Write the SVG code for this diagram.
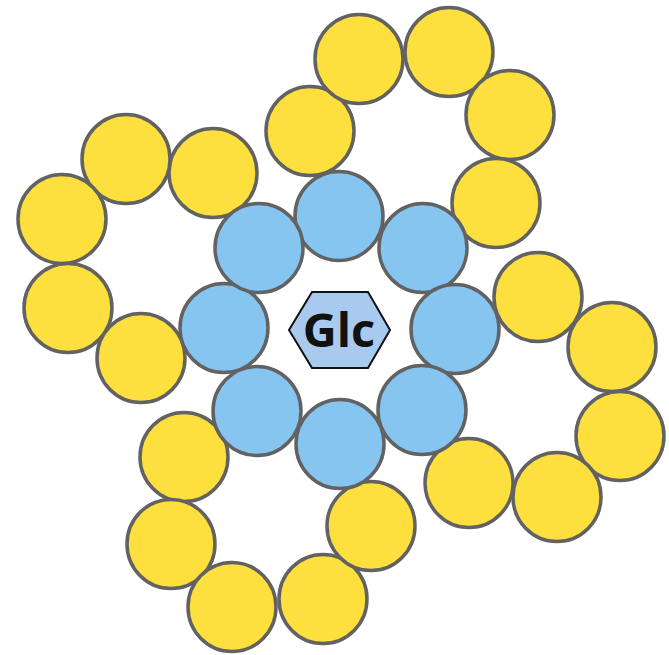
<svg xmlns="http://www.w3.org/2000/svg" width="669" height="655" viewBox="0 0 669 655">
<style>
.y{fill:#FDDF3D;stroke:#626262;stroke-width:3.5}
.b{fill:#85C5F0;stroke:#626262;stroke-width:3.5}
.hex{fill:#A8CAEE;stroke:#111;stroke-width:2}
.t{font-family:"Open Sans",sans-serif;font-weight:bold;font-size:47px;fill:#111}
</style>
<rect width="669" height="655" fill="#fff"/>
<g id="top-ring">
<ellipse class="y" cx="310" cy="131" rx="44" ry="44.5"/>
<ellipse class="y" cx="359" cy="59" rx="44" ry="44.5"/>
<ellipse class="y" cx="449" cy="52" rx="44" ry="44.5"/>
<ellipse class="y" cx="510" cy="115" rx="44" ry="44.5"/>
<ellipse class="y" cx="496" cy="203" rx="44" ry="44.5"/>
</g>
<g id="left-ring">
<ellipse class="y" cx="213" cy="173" rx="44" ry="44.5"/>
<ellipse class="y" cx="126" cy="159" rx="44" ry="44.5"/>
<ellipse class="y" cx="62" cy="219" rx="44" ry="44.5"/>
<ellipse class="y" cx="68" cy="308" rx="44" ry="44.5"/>
<ellipse class="y" cx="141" cy="358" rx="44" ry="44.5"/>
</g>
<g id="right-ring">
<ellipse class="y" cx="538" cy="297" rx="44" ry="44.5"/>
<ellipse class="y" cx="612" cy="347" rx="44" ry="44.5"/>
<ellipse class="y" cx="620" cy="436" rx="44" ry="44.5"/>
<ellipse class="y" cx="557" cy="497" rx="44" ry="44.5"/>
<ellipse class="y" cx="469" cy="483" rx="44" ry="44.5"/>
</g>
<g id="bottom-ring">
<ellipse class="y" cx="184" cy="457" rx="44" ry="44.5"/>
<ellipse class="y" cx="171" cy="544" rx="44" ry="44.5"/>
<ellipse class="y" cx="232" cy="607" rx="44" ry="44.5"/>
<ellipse class="y" cx="323" cy="599" rx="44" ry="44.5"/>
<ellipse class="y" cx="371" cy="526" rx="44" ry="44.5"/>
</g>
<g id="core-ring">
<ellipse class="b" cx="339" cy="216" rx="44" ry="44.5"/>
<ellipse class="b" cx="423" cy="248" rx="44" ry="44.5"/>
<ellipse class="b" cx="455" cy="329" rx="44" ry="44.5"/>
<ellipse class="b" cx="422" cy="410" rx="44" ry="44.5"/>
<ellipse class="b" cx="340" cy="444" rx="44" ry="44.5"/>
<ellipse class="b" cx="257" cy="411" rx="44" ry="44.5"/>
<ellipse class="b" cx="224" cy="328" rx="44" ry="44.5"/>
<ellipse class="b" cx="259" cy="248" rx="44" ry="44.5"/>
</g>
<g id="glc">
<polygon class="hex" points="289,330 312,292 368,292 390,330 368,368 312,368"/>
<text class="t" x="339" y="347" text-anchor="middle">Glc</text>
</g>
<g id="connectors"/>
</svg>
